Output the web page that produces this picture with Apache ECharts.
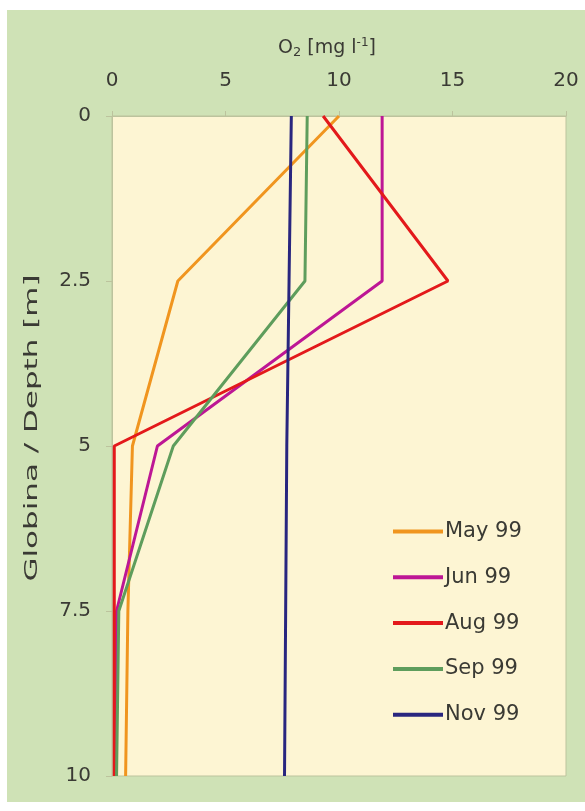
<!DOCTYPE html>
<html>
<head>
<meta charset="utf-8">
<script src="https://cdn.jsdelivr.net/npm/echarts@6/dist/echarts.min.js"></script>
<style>
html,body{margin:0;padding:0;background:#ffffff;}
#chart{width:585px;height:811px;}
</style>
</head>
<body>
<div id="chart"></div>
<script>
// Depth levels (m)
var depths = [0, 2.5, 5, 7.5, 10];
// O2 concentrations (mg/l) per month
var may99 = [10.0, 2.9, 0.9, 0.7, 0.6];
var jun99 = [11.9, 11.9, 2.0, 0.2, 0.2];
var aug99 = [9.3, 14.8, 0.1, 0.1, 0.1];
var sep99 = [8.6, 8.5, 2.7, 0.3, 0.2];
var nov99 = [7.9, 7.8, 7.7, 7.65, 7.6];
var seriesNames = ['May 99', 'Jun 99', 'Aug 99', 'Sep 99', 'Nov 99'];
var xTicks = [0, 5, 10, 15, 20];
var yTicks = [0, 2.5, 5, 7.5, 10];
var yTitle = 'Globina / Depth [m]';

var colors = ['#f0951f', '#bd1695', '#e3191b', '#5e9d5c', '#29267f'];
var allData = [may99, jun99, aug99, sep99, nov99];

function pairs(vals) {
  return vals.map(function (v, i) { return [v, depths[i]]; });
}

var chart = echarts.init(document.getElementById('chart'), null, {renderer: 'canvas'});
var fontFam = '"DejaVu Sans", Verdana, sans-serif';
var txt = '#3a3a34';

var option = {
  backgroundColor: '#ffffff',
  animation: false,
  textStyle: {fontFamily: fontFam},
  graphic: [{
    type: 'rect',
    z: -10,
    shape: {x: 7, y: 10, width: 578, height: 792},
    style: {fill: '#cfe2b6'}
  }, {
    type: 'text',
    z: 10,
    x: 32, y: 428,
    rotation: Math.PI / 2,
    scaleX: 1.72, scaleY: 1,
    style: {
      text: yTitle, fontSize: 18, fontFamily: fontFam, fill: txt,
      align: 'center', verticalAlign: 'middle'
    }
  }],
  grid: {
    left: 112, top: 116, width: 454, height: 660,
    show: true, backgroundColor: '#fdf5d3', borderColor: '#bcc39d', borderWidth: 1
  },
  xAxis: {
    type: 'value', position: 'top', min: 0, max: 20, interval: 5,
    name: '{o|O}{sub|2}{o| [mg l}{sup|-1}{o|]}',
    nameLocation: 'middle', nameGap: 57,
    nameTextStyle: {
      padding: [0, 24, 0, 0],
      rich: {
        o: {fontSize: 19, color: txt, fontFamily: fontFam},
        sub: {fontSize: 13, color: txt, verticalAlign: 'bottom', padding: [7, 0, 0, 0], fontFamily: fontFam},
        sup: {fontSize: 12, color: txt, verticalAlign: 'top', padding: [0, 0, 10, 0], fontFamily: fontFam}
      }
    },
    axisLine: {show: true, lineStyle: {color: '#bcc39d', width: 1}},
    axisTick: {show: true, length: 5, lineStyle: {color: '#bcc39d'}},
    axisLabel: {fontSize: 20, color: txt, margin: 25, fontFamily: fontFam,
      formatter: function (v) { return xTicks.indexOf(v) >= 0 ? String(v) : ''; }},
    splitLine: {show: false}
  },
  yAxis: {
    type: 'value', inverse: true, min: 0, max: 10, interval: 2.5,
    axisLine: {show: true, lineStyle: {color: '#bcc39d', width: 1}},
    axisTick: {show: true, length: 6, lineStyle: {color: '#bcc39d'}},
    axisLabel: {fontSize: 20, color: txt, margin: 21, fontFamily: fontFam, padding: [4, 0, 0, 0],
      formatter: function (v) { return yTicks.indexOf(v) >= 0 ? String(v) : ''; }},
    splitLine: {show: false}
  },
  legend: {
    orient: 'vertical', left: 388, top: 516,
    itemWidth: 50, itemHeight: 4, itemGap: 24.8,
    icon: 'rect',
    textStyle: {fontSize: 21, color: txt, fontFamily: fontFam, lineHeight: 20, padding: [0, 0, 0, -3]},
    data: seriesNames
  },
  series: seriesNames.map(function (n, i) {
    return {
      name: n, type: 'line', data: pairs(allData[i]),
      showSymbol: false, symbol: 'none',
      lineStyle: {color: colors[i], width: 3},
      itemStyle: {color: colors[i]}
    };
  })
};
chart.setOption(option);
</script>
</body>
</html>
